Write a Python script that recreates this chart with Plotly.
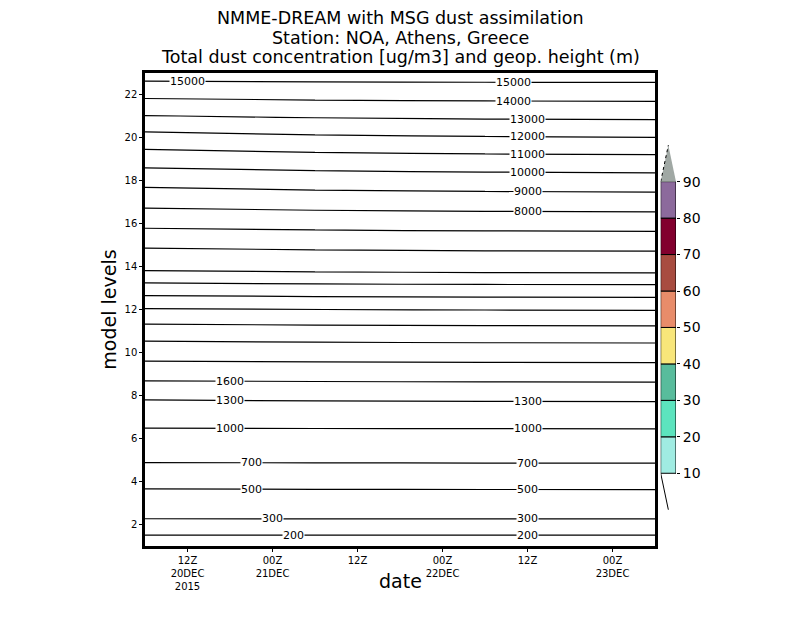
import pandas as pd
import plotly.graph_objects as go

# times (the four columns of the height table)
times = ['2015-12-20 06:00', '2015-12-21 06:00', '2015-12-22 06:00', '2015-12-23 06:00']
levels = list(range(1, 24))

# geopotential height (m) at each model level, one row per level, one column per time
geop = [
    [135, 135, 135, 135],
    [263, 263, 263, 263],
    [401, 403, 404, 404],
    [552, 555, 557, 558],
    [720, 722, 724, 725],
    [902, 904, 905, 906],
    [1105, 1110, 1113, 1115],
    [1351, 1363, 1370, 1374],
    [1715, 1727, 1734, 1738],
    [2188, 2213, 2227, 2234],
    [2781, 2811, 2828, 2836],
    [3464, 3498, 3516, 3525],
    [4295, 4331, 4351, 4361],
    [5163, 5222, 5254, 5270],
    [6143, 6228, 6274, 6297],
    [7242, 7332, 7381, 7405],
    [8304, 8415, 8475, 8505],
    [9330, 9468, 9543, 9581],
    [10466, 10624, 10710, 10753],
    [11663, 11842, 11939, 11988],
    [12973, 13104, 13176, 13212],
    [14235, 14310, 14351, 14371],
    [15469, 15483, 15490, 15494],
]

height_clevs = [200, 300, 500, 700, 1000, 1300, 1600, 2000, 2500, 3000, 3500, 4000,
                4500, 5000, 6000, 7000, 8000, 9000, 10000, 11000, 12000, 13000, 14000, 15000]

# where grads put the contour labels (valid time of each label)
label_times = {
    200: ['2015-12-21 03:00', '2015-12-22 12:00'],
    300: ['2015-12-21 00:00', '2015-12-22 12:00'],
    500: ['2015-12-20 21:00', '2015-12-22 12:00'],
    700: ['2015-12-20 21:00', '2015-12-22 12:00'],
    1000: ['2015-12-20 18:00', '2015-12-22 12:00'],
    1300: ['2015-12-20 18:00', '2015-12-22 12:00'],
    1600: ['2015-12-20 18:00'],
    8000: ['2015-12-22 12:00'],
    9000: ['2015-12-22 12:00'],
    10000: ['2015-12-22 12:00'],
    11000: ['2015-12-22 12:00'],
    12000: ['2015-12-22 12:00'],
    13000: ['2015-12-22 12:00'],
    14000: ['2015-12-22 10:00'],
    15000: ['2015-12-20 12:00', '2015-12-22 10:00'],
}

# dust concentration shading levels and colours (nothing above 10 in this plot)
dust_clevs = [10, 20, 30, 40, 50, 60, 70, 80, 90]
dust_colors = ['#a0ece2', '#5ce4be', '#58bc9c', '#f8e67a', '#e88c6a',
               '#a84c40', '#82002e', '#8c6a9c']
over_color = '#a0a8a4'

tick_times = ['2015-12-20 12:00', '2015-12-21 00:00', '2015-12-21 12:00',
              '2015-12-22 00:00', '2015-12-22 12:00', '2015-12-23 00:00']
tick_text = ['12Z<br>20DEC<br>2015', '00Z<br>21DEC', '12Z', '00Z<br>22DEC', '12Z', '00Z<br>23DEC']

titles = ['NMME-DREAM with MSG dust assimilation',
          'Station: NOA, Athens, Greece',
          'Total dust concentration [ug/m3] and geop. height (m)']

FONT = 'DejaVu Sans'

t_hours = [(t - pd.Timestamp(times[0])).total_seconds() / 3600 for t in pd.to_datetime(times)]


def level_of(value, when):
    # model level where the height field crosses value at time when
    h = (pd.Timestamp(when) - pd.Timestamp(times[0])).total_seconds() / 3600
    j = max(i for i in range(len(t_hours) - 1) if t_hours[i] <= h)
    f = (h - t_hours[j]) / (t_hours[j + 1] - t_hours[j])
    col = [row[j] + f * (row[j + 1] - row[j]) for row in geop]
    for k in range(len(col) - 1):
        if col[k] <= value <= col[k + 1]:
            return levels[k] + (value - col[k]) / (col[k + 1] - col[k]) * (levels[k + 1] - levels[k])
    return None


fig = go.Figure()

for c in height_clevs:
    fig.add_trace(go.Contour(
        x=times, y=levels, z=geop,
        autocontour=False,
        contours=dict(start=c, end=c, size=100, coloring='none', showlabels=False),
        line=dict(color='black', width=1.2),
        showscale=False, hoverinfo='skip'))

for c, whens in label_times.items():
    for w in whens:
        fig.add_annotation(x=w, y=level_of(c, w), xref='x', yref='y', text=str(c),
                           showarrow=False, bgcolor='white', borderpad=0,
                           font=dict(size=11, family=FONT, color='black'))

# colour key
lows = dust_clevs[:-1]
widths = [b - a for a, b in zip(dust_clevs[:-1], dust_clevs[1:])]
fig.add_trace(go.Bar(x=[0.5] * len(lows), y=widths, base=lows, width=1,
                     marker=dict(color=dust_colors, line=dict(color='black', width=1)),
                     xaxis='x2', yaxis='y2', hoverinfo='skip'))
top = dust_clevs[-1]
step = dust_clevs[-1] - dust_clevs[-2]
fig.add_trace(go.Scatter(x=[0, 0.5, 1, 0], y=[top, top + step, top, top], fill='toself',
                         fillcolor=over_color, mode='lines', line=dict(width=0),
                         xaxis='x2', yaxis='y2', hoverinfo='skip'))
fig.add_trace(go.Scatter(x=[0, 0.5], y=[top, top + step], mode='lines',
                         line=dict(color='black', width=1, dash='dot'),
                         xaxis='x2', yaxis='y2', hoverinfo='skip'))
bot = dust_clevs[0]
fig.add_trace(go.Scatter(x=[0, 0.5], y=[bot, bot - step], mode='lines',
                         line=dict(color='black', width=1),
                         xaxis='x2', yaxis='y2', hoverinfo='skip'))

# three title lines, centred over the main panel
for i, t in enumerate(titles):
    fig.add_annotation(text=t, x=0.5, xref='x domain', y=1, yref='paper',
                       yanchor='middle', yshift=55 - 19.5 * i, showarrow=False,
                       font=dict(size=17.5, family=FONT, color='black'))
fig.add_annotation(text='date', x=0.5, xref='x domain', y=0, yref='paper',
                   yanchor='middle', yshift=-35, showarrow=False,
                   font=dict(size=19, family=FONT, color='black'))

# the page body adds 8px at top/left, so the margins are set 8px smaller there
fig.update_layout(
    width=800, height=618,
    margin=dict(l=137, r=108, t=65, b=80, autoexpand=False),
    paper_bgcolor='white', plot_bgcolor='white',
    showlegend=False,
    font=dict(family=FONT, color='black'),
    xaxis=dict(type='date', domain=[0, 510 / 555], automargin=False,
               range=['2015-12-20 06:00', '2015-12-23 06:00'],
               tickvals=tick_times, ticktext=tick_text,
               ticks='outside', ticklen=3, tickcolor='black',
               tickfont=dict(size=10), showgrid=False, zeroline=False,
               showline=True, linecolor='black', linewidth=2.5, mirror=True),
    yaxis=dict(range=[1, 23], tickvals=list(range(2, 23, 2)), automargin=False,
               ticks='outside', ticklen=3, tickcolor='black',
               tickfont=dict(size=10), showgrid=False, zeroline=False,
               showline=True, linecolor='black', linewidth=2.5, mirror=True,
               title=dict(text='model levels', font=dict(size=19), standoff=3)),
    xaxis2=dict(domain=[515.7 / 555, 531 / 555], range=[0, 1], anchor='y2', automargin=False,
                showticklabels=False, showgrid=False, zeroline=False, showline=False),
    yaxis2=dict(anchor='x2', side='right', range=[-9.95, 119.8], automargin=False,
                tickvals=dust_clevs, ticks='outside', ticklen=3, tickcolor='black',
                tickfont=dict(size=14), showgrid=False, zeroline=False, showline=False),
)

fig.write_html('out.html')
